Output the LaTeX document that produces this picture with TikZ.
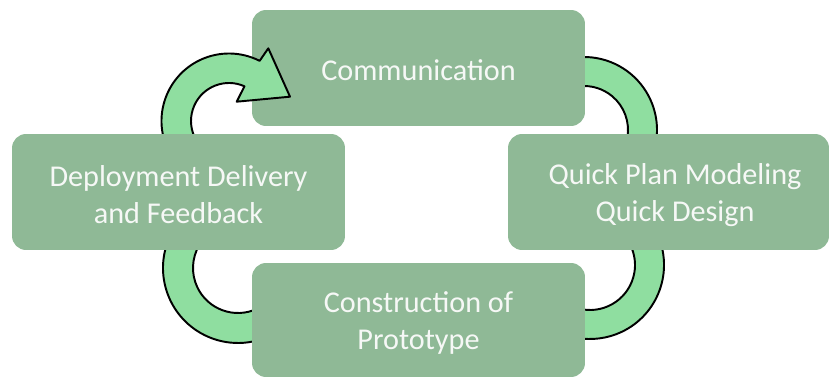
\documentclass[tikz,border=0pt]{standalone}
\usepackage{fontspec}
\setmainfont{Carlito}
\definecolor{boxgreen}{RGB}{143,185,150}
\definecolor{ringgreen}{RGB}{143,222,160}
\definecolor{boxtext}{RGB}{246,248,246}
\begin{document}
\begin{tikzpicture}[x=0.02cm,y=0.02cm,
  ring/.style={fill=ringgreen,draw=black,line width=1.1pt,line join=round},
  box/.style={fill=boxgreen,draw=none,rounded corners=0.28cm,inner sep=0pt},
  boxlabel/.style={text=boxtext,align=center,inner sep=0pt,
    font=\fontsize{17.2}{21}\selectfont}]
\useasboundingbox (0,0) rectangle (830,378);

% curved bands that run behind the boxes
\draw[ring] (584,248) ++(95:73) arc[start angle=95,end angle=-10,radius=73]
  -- ++(170:29) arc[start angle=-10,end angle=95,radius=44] -- cycle;
\draw[ring] (590,113) ++(25:74) arc[start angle=25,end angle=-100,radius=74]
  -- ++(80:29) arc[start angle=-100,end angle=25,radius=45] -- cycle;
\draw[ring] (238,110) ++(150:75) arc[start angle=150,end angle=295,radius=75]
  -- ++(115:30) arc[start angle=295,end angle=150,radius=45] -- cycle;

% phase boxes
\node[box,minimum width=6.66cm,minimum height=2.32cm] (comm) at (418.5,310) {};
\node[boxlabel] (commtext) at ([yshift=-0.05cm]comm.center) {Communication};
\node[box,minimum width=6.42cm,minimum height=2.32cm] (quick) at (668.5,186) {};
\node[boxlabel] (quicktext) at ([xshift=0.13cm,yshift=-0.06cm]quick.center) {Quick Plan Modeling\\Quick Design};
\node[box,minimum width=6.66cm,minimum height=2.28cm] (constr) at (418.5,58) {};
\node[boxlabel] (constrtext) at ([yshift=-0.06cm]constr.center) {Construction of\\Prototype};

% curved arrow from the last phase back to the first
\draw[ring] (229,257) ++(205:67.5) arc[start angle=205,end angle=63,radius=67.5]
  -- (268.3,329.7) -- (290,281.3) -- (236.7,276.3)
  -- ([shift={(66:38)}]229,257) arc[start angle=66,end angle=205,radius=38] -- cycle;

\node[box,minimum width=6.66cm,minimum height=2.32cm] (deploy) at (178.5,186) {};
\node[boxlabel] (deploytext) at ([yshift=-0.06cm]deploy.center) {Deployment Delivery\\and Feedback};
\end{tikzpicture}
\end{document}
